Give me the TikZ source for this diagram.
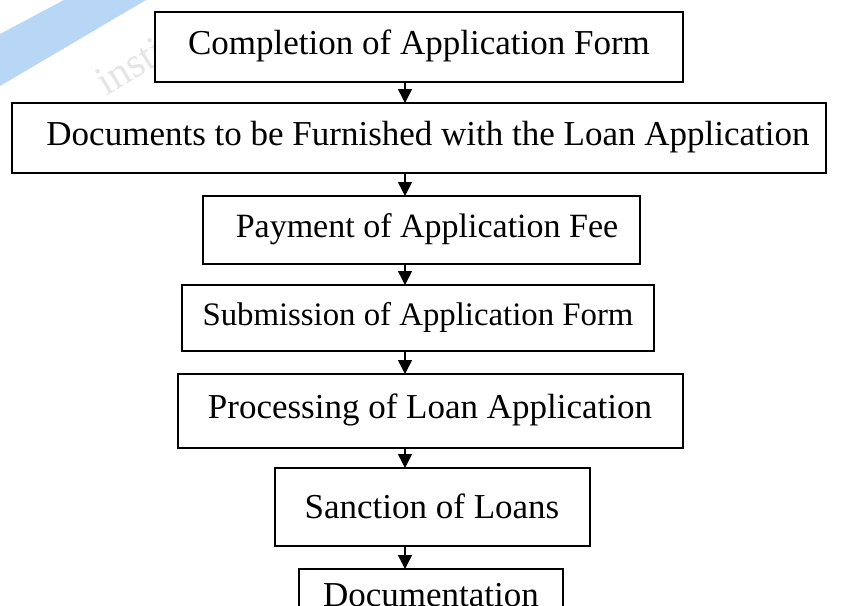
\documentclass[tikz,border=0pt]{standalone}
\usepackage{fontspec}
\setmainfont{Liberation Serif}
\usetikzlibrary{arrows.meta}

\definecolor{markblue}{RGB}{184,214,246}

\tikzset{
  x=1pt, y=-1pt,
  stepbox/.style={draw=black, line width=1.8pt, fill=white},
  label/.style={font=\fontsize{35}{40}\selectfont},
  flow/.style={draw=black, line width=1.5pt, -{Triangle[length=14pt,width=14pt]}}
}

\begin{document}
\begin{tikzpicture}
  \useasboundingbox (0,0) rectangle (842,605);
  \fill[white] (0,0) rectangle (842,605);

  % faint watermark in the upper left corner
  \fill[markblue] (0,34) -- (64,0) -- (146,0) -- (0,86) -- cycle;
  \node[text=black!10, rotate=31, font=\fontsize{42}{42}\selectfont] at (130,66) {insti};

  % boxes: corner coordinates in pixels, y measured downwards
  \draw[stepbox] (155,12) rectangle (683,82);
  \node[label] (b1) at (419,46) {Completion of Application Form};
  \coordinate (b1s) at (405,82);

  \draw[stepbox] (12,103) rectangle (826,173);
  \node[label] (b2) at (428,137) {Documents to be Furnished with the Loan Application};
  \coordinate (b2n) at (405,103);
  \coordinate (b2s) at (405,173);

  \draw[stepbox] (203,196) rectangle (640,264);
  \node[label, font=\fontsize{34}{40}\selectfont] (b3) at (427,229) {Payment of Application Fee};
  \coordinate (b3n) at (405,196);
  \coordinate (b3s) at (405,264);

  \draw[stepbox] (182,285) rectangle (654,351);
  \node[label, font=\fontsize{32.8}{40}\selectfont] (b4) at (418,317) {Submission of Application Form};
  \coordinate (b4n) at (405,285);
  \coordinate (b4s) at (405,351);

  \draw[stepbox] (178,374) rectangle (683,448);
  \node[label] (b5) at (430,410) {Processing of Loan Application};
  \coordinate (b5n) at (405,374);
  \coordinate (b5s) at (405,448);

  \draw[stepbox] (275,468) rectangle (590,546);
  \node[label] (b6) at (432,506) {Sanction of Loans};
  \coordinate (b6n) at (405,468);
  \coordinate (b6s) at (405,546);

  \draw[stepbox] (299,569) rectangle (563,640);
  \node[label] (b7) at (431,595) {Documentation};
  \coordinate (b7n) at (405,569);

  % connectors
  \draw[flow] (b1s) -- (b2n);
  \draw[flow] (b2s) -- (b3n);
  \draw[flow] (b3s) -- (b4n);
  \draw[flow] (b4s) -- (b5n);
  \draw[flow] (b5s) -- (b6n);
  \draw[flow] (b6s) -- (b7n);
\end{tikzpicture}
\end{document}
